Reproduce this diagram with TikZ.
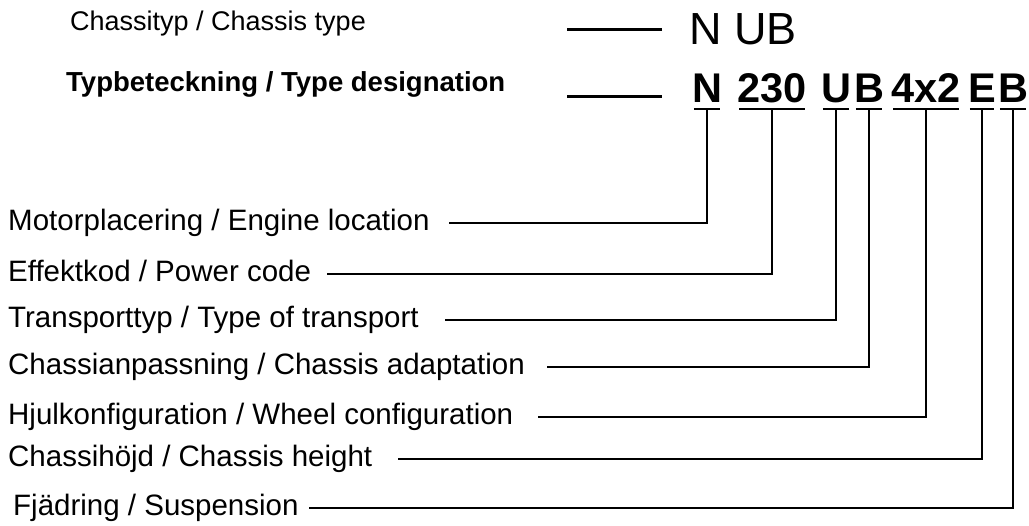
\documentclass[tikz,border=0pt]{standalone}
\usepackage{fontspec}
\setmainfont{Liberation Sans}
\usetikzlibrary{positioning}

\begin{document}
\begin{tikzpicture}[x=1pt,y=-1pt,
  lbl/.style={inner sep=0pt,anchor=west,text height=16pt,text depth=0pt,
              font=\fontsize{29.5}{30}\selectfont},
  head/.style={inner sep=0pt,anchor=base west,font=\fontsize{27}{28}\selectfont},
  code/.style={inner sep=0pt,anchor=base,font=\fontsize{41.5}{43}\selectfont\bfseries},
  ln/.style={line width=2.6pt}]

  \useasboundingbox (0,0) rectangle (1029,526);

  % header rows
  \node[head] (typ)   at (70,31) {Chassityp / Chassis type};
  \node[head,font=\fontsize{27.5}{28}\selectfont\bfseries] (desig) at (66,92) {Typbeteckning / Type designation};
  \node[inner sep=0pt,anchor=base west,font=\fontsize{45}{46}\selectfont] (nub) at (689,45) {N UB};

  % parts of the designation
  \node[code] (cN)     at (707,103)  {N};
  \node[code] (c230)   at (772,103)  {230};
  \node[code] (cU)     at (836,103)  {U};
  \node[code] (cB)     at (869,103)  {B};
  \node[code] (cWheel) at (926,103)  {4x2};
  \node[code] (cE)     at (982,103)  {E};
  \node[code] (cS)     at (1013,103) {B};

  % explanations
  \node[lbl] (lMotor)  at (8,223)  {Motorplacering / Engine location};
  \node[lbl] (lPower)  at (8,274)  {Effektkod / Power code};
  \node[lbl] (lTrans)  at (8,320)  {Transporttyp / Type of transport};
  \node[lbl] (lAdapt)  at (8,367)  {Chassianpassning / Chassis adaptation};
  \node[lbl] (lWheel)  at (8,417)  {Hjulkonfiguration / Wheel configuration};
  \node[lbl] (lHeight) at (8,459)  {Chassihöjd / Chassis height};
  \node[lbl] (lSusp)   at (13,508) {Fjädring / Suspension};

  \draw[ln] ([xshift=-27pt]nub.west) -- ([xshift=-122pt]nub.west);
  \draw[ln] ([shift={(-30pt,-8pt)}]cN.west) -- ([shift={(-125pt,-8pt)}]cN.west);

  \foreach \c/\l/\g in {cN/lMotor/19, c230/lPower/16, cU/lTrans/26, cB/lAdapt/22,
                        cWheel/lWheel/25, cE/lHeight/26, cS/lSusp/10}{
    \draw[ln] ([xshift=2pt,yshift=-6pt]\c.base west) -- ([xshift=-2pt,yshift=-6pt]\c.base east);
    \draw[ln] ([yshift=-6pt]\c.base) |- ([xshift=\g pt]\l.east);
  }
\end{tikzpicture}
\end{document}
